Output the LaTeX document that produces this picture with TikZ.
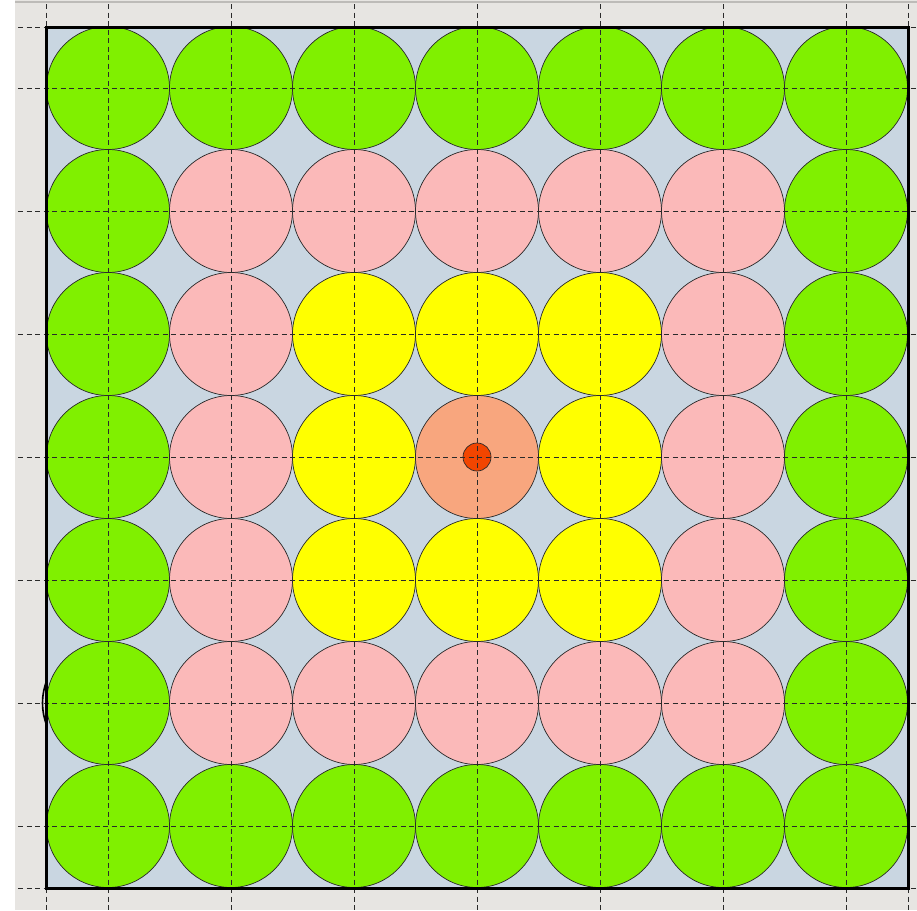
\documentclass[tikz,border=0pt]{standalone}
\usetikzlibrary{calc}
\definecolor{pgray}{HTML}{E7E5E2}
\definecolor{tgray}{HTML}{BDBBB8}
\definecolor{frameblue}{HTML}{C9D6E1}
\definecolor{rgreen}{HTML}{80F000}
\definecolor{rpink}{HTML}{FBB9B9}
\definecolor{ryellow}{HTML}{FFFF00}
\definecolor{rsalmon}{HTML}{F8A67E}
\definecolor{rred}{HTML}{F24500}
\definecolor{gline}{HTML}{2A2A2A}
\tikzset{
  rod/.style={circle, draw=gline, line width=0.7pt, minimum size=123pt, inner sep=0pt},
  gridline/.style={draw=gline, line width=1pt, dash pattern=on 5pt off 3.5pt},
  framebox/.style={draw=black, line width=3pt},
}
\begin{document}
\begin{tikzpicture}[x=1pt,y=-1pt]
\useasboundingbox (0,0) rectangle (917,910);
\fill[white] (0,0) rectangle (917,910);
\fill[pgray] (15,0) rectangle (917,910);
\draw[tgray, line width=1.2pt] (15,2) -- (917,2);
% frame interior
\fill[frameblue] (46,27) rectangle (908,888);
% rods
\foreach \i in {0,...,6}{
  \foreach \j in {0,...,6}{
    \pgfmathtruncatemacro{\ring}{max(abs(\i-3),abs(\j-3))}
    \ifcase\ring
      \def\rc{rsalmon}\or\def\rc{ryellow}\or\def\rc{rpink}\or\def\rc{rgreen}\fi
    \node[rod, fill=\rc] (c-\j-\i) at ({108+123*\i},{88+123*\j}) {};
  }
}
\node[circle, draw=gline, line width=0.7pt, fill=rred, minimum size=28pt, inner sep=0pt] (core) at (c-3-3) {};
% odd arc at left of row 5
\draw[black, line width=1.6pt] ($(c-5-0)+(-4,0)$) ++(158:61.5) arc[start angle=158, end angle=202, radius=61.5];
% dashed grid lines
\foreach \x in {46,108,231,354,477,600,723,846,908}{
  \draw[gridline] (\x,4) -- (\x,910);
}
\foreach \y in {27,88,211,334,457,580,703,826,888}{
  \draw[gridline] (18,\y) -- (917,\y);
}
% frame
\draw[framebox] (46,27) rectangle (908,888);
\end{tikzpicture}
\end{document}
